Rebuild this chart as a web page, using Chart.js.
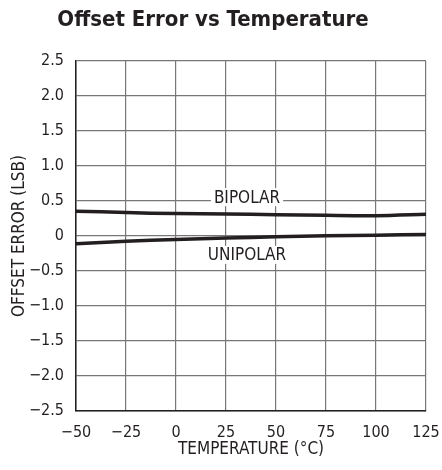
<!DOCTYPE html>
<html>
<head>
<meta charset="utf-8">
<script src="https://cdn.jsdelivr.net/npm/chart.js@4.4.1/dist/chart.umd.min.js"></script>
<style>
  html, body { margin: 0; padding: 0; background: #fff; }
  #wrap { width: 442px; height: 470px; }
</style>
</head>
<body>
<div id="wrap"><canvas id="graph"></canvas></div>
<script>
// Données
const A_temperature = [-50, -25, 0, 25, 50, 75, 100, 125];
const A_bipolar = [0.355, 0.335, 0.32, 0.315, 0.305, 0.295, 0.29, 0.31];
const A_unipolar = [-0.11, -0.075, -0.05, -0.03, -0.012, 0.003, 0.012, 0.022];
const A_yTicks = [-2.5, -2.0, -1.5, -1.0, -0.5, 0, 0.5, 1.0, 1.5, 2.0, 2.5];
const A_xTicks = [-50, -25, 0, 25, 50, 75, 100, 125];
const A_curveLabels = [
  { S_text: "BIPOLAR", I_x: 35.5, I_y: 0.555 },
  { S_text: "UNIPOLAR", I_x: 35.5, I_y: -0.27 },
];

const S_font = "'Liberation Sans Narrow', 'DejaVu Sans Condensed', sans-serif";
const S_ink = "#231f20";
const S_grid = "#777777";

function F_points(A_values) {
  return A_temperature.map((I_t, I_i) => ({ x: I_t, y: A_values[I_i] }));
}

function F_minus(S_txt) {
  return S_txt.replace("-", "\u2212");
}

// Étiquettes des courbes avec fond blanc
const O_labelPlugin = {
  id: "curveLabels",
  afterDatasetsDraw(O_chart) {
    const O_ctx = O_chart.ctx;
    const O_x = O_chart.scales.x;
    const O_y = O_chart.scales.y;
    O_ctx.save();
    O_ctx.font = "17px " + S_font;
    O_ctx.textAlign = "center";
    O_ctx.textBaseline = "middle";
    A_curveLabels.forEach((O_lab) => {
      const I_px = O_x.getPixelForValue(O_lab.I_x);
      const I_py = O_y.getPixelForValue(O_lab.I_y);
      const I_w = O_ctx.measureText(O_lab.S_text).width + 6;
      O_ctx.fillStyle = "#fff";
      O_ctx.fillRect(I_px - I_w / 2, I_py - 9, I_w, 18);
      O_ctx.fillStyle = S_ink;
      O_ctx.fillText(O_lab.S_text, I_px, I_py + 1);
    });
    O_ctx.restore();
  },
};

const O_lineStyle = {
  borderColor: S_ink,
  borderWidth: 3.5,
  pointRadius: 0,
  tension: 0.3,
  fill: false,
};

new Chart(document.getElementById("graph").getContext("2d"), {
  type: "line",
  data: {
    datasets: [
      Object.assign({ label: "BIPOLAR", data: F_points(A_bipolar) }, O_lineStyle),
      Object.assign({ label: "UNIPOLAR", data: F_points(A_unipolar) }, O_lineStyle),
    ],
  },
  plugins: [O_labelPlugin],
  options: {
    responsive: true,
    maintainAspectRatio: false,
    animation: false,
    layout: { padding: { left: 0, right: 16, top: 0, bottom: 0 } },
    plugins: {
      legend: { display: false },
      tooltip: { enabled: false },
      title: {
        display: true,
        text: "Offset Error vs Temperature",
        color: S_ink,
        font: { family: S_font, size: 22, weight: "bold", lineHeight: 1.2 },
        padding: { top: 7, bottom: 27.6 },
      },
    },
    scales: {
      x: {
        type: "linear",
        min: -50,
        max: 125,
        afterBuildTicks(O_scale) {
          O_scale.ticks = A_xTicks.map((I_v) => ({ value: I_v }));
        },
        afterFit(O_scale) {
          O_scale.height = 59;
          O_scale.paddingLeft = 0;
          O_scale.paddingRight = 0;
        },
        ticks: {
          color: S_ink,
          font: { family: S_font, size: 16 },
          padding: 12,
          maxRotation: 0,
          callback: (I_v) => F_minus(String(I_v)),
        },
        grid: { color: S_grid, lineWidth: 1.2, drawTicks: false },
        border: { color: S_ink, width: 1.5 },
        title: {
          display: true,
          text: "TEMPERATURE (\u00b0C)",
          color: S_ink,
          font: { family: S_font, size: 17 },
          padding: { top: 0, bottom: 10 },
        },
      },
      y: {
        min: -2.5,
        max: 2.5,
        afterBuildTicks(O_scale) {
          O_scale.ticks = A_yTicks.map((I_v) => ({ value: I_v }));
        },
        afterFit(O_scale) {
          O_scale.width = 76;
          O_scale.paddingTop = 0;
          O_scale.paddingBottom = 0;
        },
        ticks: {
          color: S_ink,
          font: { family: S_font, size: 16 },
          padding: 12,
          callback: (I_v) => F_minus(I_v === 0 ? "0" : I_v.toFixed(1)),
        },
        grid: { color: S_grid, lineWidth: 1.2, drawTicks: false },
        border: { color: S_ink, width: 1.5 },
        title: {
          display: true,
          text: "OFFSET ERROR (LSB)",
          color: S_ink,
          font: { family: S_font, size: 17 },
          padding: { top: 9, bottom: 0 },
        },
      },
    },
  },
});
</script>
</body>
</html>
